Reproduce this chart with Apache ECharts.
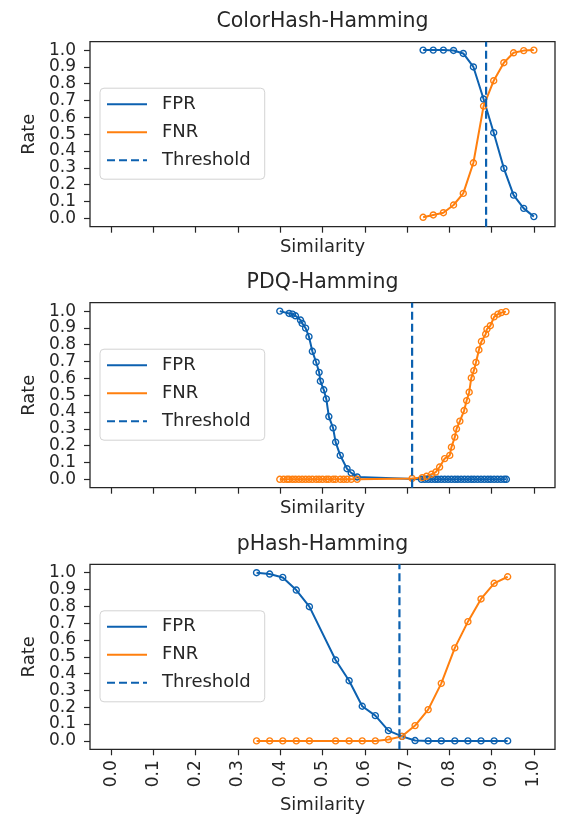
<!DOCTYPE html>
<html>
<head>
<meta charset="utf-8">
<script src="https://cdn.jsdelivr.net/npm/echarts@6/dist/echarts.min.js"></script>
<style>
  html, body { margin: 0; padding: 0; background: #fff; }
  #chart { width: 573px; height: 823px; }
</style>
</head>
<body>
<div id="chart"></div>
<script>
// Error-rate curves (FPR / FNR) against similarity for three perceptual hashes.

const FONT = 'DejaVu Sans';
const BLUE = '#0c61b0';
const ORANGE = '#ff7f0e';
const INK = '#262626';

// Tick positions shared by every panel
const xTicks = [0.0, 0.1, 0.2, 0.3, 0.4, 0.5, 0.6, 0.7, 0.8, 0.9, 1.0];
const yTicks = [0.0, 0.1, 0.2, 0.3, 0.4, 0.5, 0.6, 0.7, 0.8, 0.9, 1.0];

const legendNames = ['FPR', 'FNR', 'Threshold'];

// ColorHash-Hamming
const colorTitle = 'ColorHash-Hamming';
const colorSim = [0.738, 0.762, 0.786, 0.810, 0.833, 0.857, 0.881, 0.905, 0.929, 0.952, 0.976, 1.000];
const colorFpr = [1.0, 1.0, 1.0, 0.998, 0.98, 0.90, 0.709, 0.509, 0.297, 0.138, 0.059, 0.01];
const colorFnr = [0.006, 0.02, 0.033, 0.079, 0.148, 0.33, 0.667, 0.818, 0.925, 0.984, 0.997, 1.0];
const colorThreshold = 0.887;

// PDQ-Hamming
const pdqTitle = 'PDQ-Hamming';
const pdqFprSim = [0.399, 0.421, 0.429, 0.436, 0.448, 0.452, 0.460, 0.468, 0.476, 0.485, 0.492, 0.495,
  0.503, 0.509, 0.515, 0.525, 0.531, 0.542, 0.558, 0.568, 0.582,
  0.734, 0.742, 0.750, 0.758, 0.766, 0.773, 0.781, 0.789, 0.797, 0.805, 0.813, 0.820, 0.828,
  0.836, 0.844, 0.852, 0.859, 0.867, 0.875, 0.883, 0.891, 0.898, 0.906, 0.914, 0.922, 0.930, 0.935];
const pdqFpr = [1.0, 0.986, 0.982, 0.972, 0.947, 0.927, 0.899, 0.848, 0.761, 0.696, 0.636, 0.583,
  0.532, 0.478, 0.373, 0.306, 0.221, 0.142, 0.063, 0.038, 0.014,
  0, 0, 0, 0, 0, 0, 0, 0, 0, 0, 0, 0, 0,
  0, 0, 0, 0, 0, 0, 0, 0, 0, 0, 0, 0, 0, 0];
const pdqFnrSim = [0.399, 0.408, 0.416, 0.421, 0.429, 0.436, 0.444, 0.452, 0.460, 0.468, 0.476, 0.485,
  0.492, 0.500, 0.509, 0.515, 0.525, 0.531, 0.542, 0.550, 0.558, 0.568, 0.582,
  0.712, 0.736, 0.746, 0.758, 0.768, 0.777, 0.789, 0.801, 0.805, 0.813, 0.817, 0.825, 0.835,
  0.841, 0.847, 0.852, 0.858, 0.863, 0.870, 0.876, 0.886, 0.889, 0.897, 0.906, 0.915, 0.923, 0.934];
const pdqFnr = [0, 0, 0, 0, 0, 0, 0, 0, 0, 0, 0, 0,
  0, 0, 0, 0, 0, 0, 0, 0, 0, 0, 0,
  0.005, 0.01, 0.018, 0.03, 0.043, 0.073, 0.123, 0.142, 0.191, 0.251, 0.3, 0.346, 0.409,
  0.468, 0.518, 0.603, 0.646, 0.695, 0.769, 0.82, 0.863, 0.893, 0.913, 0.966, 0.982, 0.991, 0.997];
const pdqThreshold = 0.712;

// pHash-Hamming
const phashTitle = 'pHash-Hamming';
const phashSim = [0.344, 0.375, 0.406, 0.438, 0.469, 0.531, 0.563, 0.594, 0.625, 0.656,
  0.688, 0.719, 0.750, 0.781, 0.813, 0.844, 0.875, 0.906, 0.938];
const phashFpr = [1.0, 0.992, 0.972, 0.897, 0.798, 0.481, 0.358, 0.206, 0.150, 0.061,
  0.027, 0.002, 0, 0, 0, 0, 0, 0, 0];
const phashFnr = [0, 0, 0, 0, 0, 0, 0, 0, 0, 0.008,
  0.027, 0.091, 0.186, 0.342, 0.553, 0.709, 0.844, 0.937, 0.976];
const phashThreshold = 0.682;

const panels = [
  { title: colorTitle, fprSim: colorSim, fpr: colorFpr, fnrSim: colorSim, fnr: colorFnr, threshold: colorThreshold },
  { title: pdqTitle, fprSim: pdqFprSim, fpr: pdqFpr, fnrSim: pdqFnrSim, fnr: pdqFnr, threshold: pdqThreshold },
  { title: phashTitle, fprSim: phashSim, fpr: phashFpr, fnrSim: phashSim, fnr: phashFnr, threshold: phashThreshold }
];

// Panel frame layout (pixels)
const PLOT_LEFT = 90, PLOT_WIDTH = 465, PLOT_HEIGHT = 185;
const panelTops = [41.7, 302.7, 564.3];
const X_MIN = -0.05, X_MAX = 1.05, Y_MIN = -0.05, Y_MAX = 1.05;

const pairs = (xs, ys) => xs.map((x, i) => [x, ys[i]]);
const tickFmt = v => Number(v).toFixed(1);

const grid = panelTops.map(top => ({
  left: PLOT_LEFT, top: top, width: PLOT_WIDTH, height: PLOT_HEIGHT,
  show: true, borderColor: INK, borderWidth: 1.3, backgroundColor: 'transparent',
  containLabel: false, outerBoundsMode: 'none'
}));

const title = panels.map((p, i) => ({
  text: p.title,
  left: PLOT_LEFT + PLOT_WIDTH / 2,
  top: panelTops[i] - 31,
  textAlign: 'center',
  padding: 0,
  textStyle: { fontFamily: FONT, fontSize: 20.5, fontWeight: 'normal', color: INK, lineHeight: 22 }
}));

const legend = panelTops.map(top => ({
  orient: 'vertical',
  left: 100,
  top: top + 46.5,
  data: legendNames,
  selectedMode: false,
  itemWidth: 40,
  itemHeight: 14,
  itemGap: 10,
  padding: [7, 14, 10, 6],
  backgroundColor: 'rgba(255,255,255,0.8)',
  borderColor: '#d3d3d3',
  borderWidth: 1,
  borderRadius: 4,
  itemStyle: { opacity: 0 },
  textStyle: { fontFamily: FONT, fontSize: 18, color: INK, lineHeight: 18, padding: [0, 0, 0, 10] }
}));

const lastPanel = panels.length - 1;

const xAxis = panels.map((p, i) => ({
  type: 'value', gridIndex: i, min: X_MIN, max: X_MAX,
  axisLine: { show: false, onZero: false },
  splitLine: { show: false },
  axisTick: { show: true, inside: false, length: 6, customValues: xTicks, lineStyle: { color: INK, width: 1.2 } },
  axisLabel: {
    show: i === lastPanel, customValues: xTicks, formatter: tickFmt, rotate: 90, margin: 11,
    fontFamily: FONT, fontSize: 17, color: INK
  },
  name: 'Similarity', nameLocation: 'middle', nameGap: i === lastPanel ? 47 : 12,
  nameTextStyle: { fontFamily: FONT, fontSize: 18, color: INK }
}));

const yAxis = panels.map((p, i) => ({
  type: 'value', gridIndex: i, min: Y_MIN, max: Y_MAX,
  axisLine: { show: false, onZero: false },
  splitLine: { show: false },
  axisTick: { show: true, inside: false, length: 6, customValues: yTicks, lineStyle: { color: INK, width: 1.2 } },
  axisLabel: { customValues: yTicks, formatter: tickFmt, margin: 14, fontFamily: FONT, fontSize: 17, color: INK },
  name: 'Rate', nameLocation: 'middle', nameGap: 50, nameRotate: 90,
  nameTextStyle: { fontFamily: FONT, fontSize: 18, color: INK }
}));

const curve = (name, color, data, i) => ({
  name, type: 'line', xAxisIndex: i, yAxisIndex: i, data,
  symbol: 'circle', symbolSize: 6, showSymbol: true, showAllSymbol: true,
  lineStyle: { color, width: 2 },
  itemStyle: { color: 'rgba(255,255,255,0)', borderColor: color, borderWidth: 1.4 },
  emphasis: { disabled: true },
  clip: true, z: 3
});

const series = [];
panels.forEach((p, i) => {
  series.push(curve('FPR', BLUE, pairs(p.fprSim, p.fpr), i));
  series.push(curve('FNR', ORANGE, pairs(p.fnrSim, p.fnr), i));
  series.push({
    name: 'Threshold', type: 'line', xAxisIndex: i, yAxisIndex: i,
    data: [[p.threshold, Y_MIN], [p.threshold, Y_MAX]],
    symbol: 'none',
    lineStyle: { color: BLUE, width: 2.2, type: [8, 4] },
    itemStyle: { color: BLUE },
    emphasis: { disabled: true },
    clip: true, z: 4
  });
});

const chart = echarts.init(document.getElementById('chart'), null, { renderer: 'canvas' });
chart.setOption({
  animation: false,
  backgroundColor: '#ffffff',
  textStyle: { fontFamily: FONT },
  title, legend, grid, xAxis, yAxis, series
});
</script>
</body>
</html>
